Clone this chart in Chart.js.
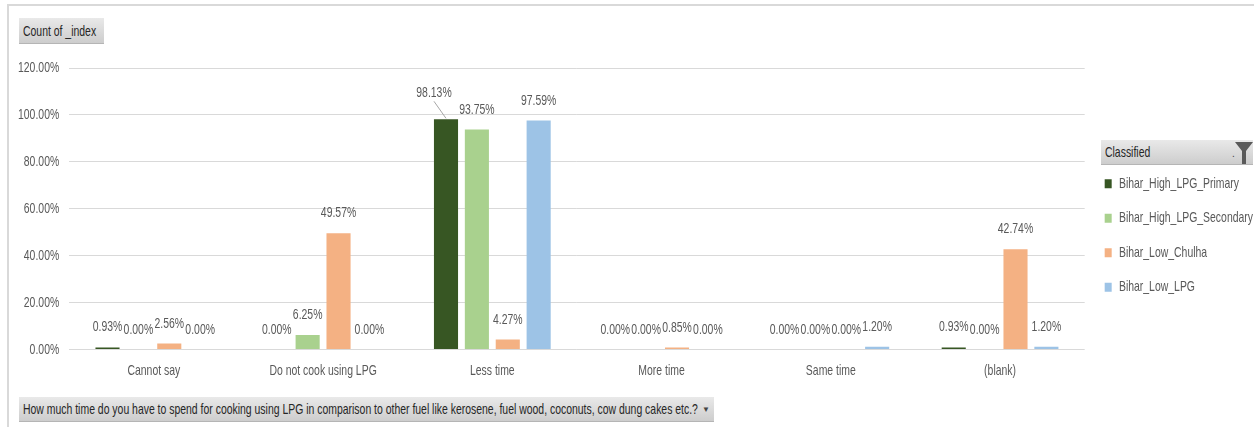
<!DOCTYPE html>
<html>
<head>
<meta charset="utf-8">
<script src="https://cdn.jsdelivr.net/npm/chart.js@4"></script>
<style>
  html, body { margin: 0; padding: 0; background: #fff; }
  #wrap { position: relative; width: 1254px; height: 427px; overflow: hidden; }
  #frame { position: absolute; left: 7px; top: 4px; width: 1260px; height: 440px; border-left: 2px solid #d9d9d9; border-top: 2px solid #d9d9d9; }
  canvas { position: absolute; left: 0; top: 0; }
  .btn { position: absolute; font-family: "Liberation Sans", Arial, sans-serif; font-size: 14.5px; color: #262626;
         background: linear-gradient(#e9e9e9, #cdcdcd); border-bottom: 1px solid #b5b5b5; box-sizing: border-box; white-space: nowrap; }
  .btn .t { display: inline-block; transform: scaleX(0.72); transform-origin: 0 50%; }
</style>
</head>
<body>
<div id="wrap">
  <div id="frame"></div>
  <div class="btn" style="left:19px;top:18px;width:85px;height:26px;line-height:26px;padding-left:4px;"><span class="t">Count of _index</span></div>
  <div class="btn" style="left:1101px;top:140px;width:152px;height:25px;line-height:25px;padding-left:4px;"><span class="t">Classified</span>
    <span style="position:absolute;left:131px;top:1px;font-size:10px;color:#444;">.</span>
    <svg style="position:absolute;left:134px;top:2px;" width="18" height="22" viewBox="0 0 18 22"><path d="M0 0 H18 L11 9 V22 H7 V9 Z" fill="#5a5a5a"/></svg>
  </div>
  <div class="btn" style="left:19px;top:397px;width:695px;height:25px;line-height:25px;padding-left:4px;"><span class="t">How much time do you have to spend for cooking using LPG in comparison to other fuel like kerosene, fuel wood, coconuts, cow dung cakes etc.?</span>
    <span style="position:absolute;left:683px;top:0;font-size:8px;color:#444;">&#9660;</span></div>
  <canvas id="c" width="1254" height="427"></canvas>
</div>
<script>
const categories = ['Cannot say', 'Do not cook using LPG', 'Less time', 'More time', 'Same time', '(blank)'];
const seriesNames = ['Bihar_High_LPG_Primary', 'Bihar_High_LPG_Secondary', 'Bihar_Low_Chulha', 'Bihar_Low_LPG'];
const highPrimary   = [0.93, 0.00, 98.13, 0.00, 0.00, 0.93];
const highSecondary = [0.00, 6.25, 93.75, 0.00, 0.00, 0.00];
const lowChulha     = [2.56, 49.57, 4.27, 0.85, 0.00, 42.74];
const lowLPG        = [0.00, 0.00, 97.59, 0.00, 1.20, 1.20];
const yTicks = [0, 20, 40, 60, 80, 100, 120];

const colors = ['#375623', '#a9d18e', '#f4b183', '#9dc3e6'];
const FONT = '"Liberation Sans", Arial, sans-serif';
const FSIZE = 14.5;
const TXT = '#595959';
const SQUEEZE = 0.72;

// condensed text rendering (reference uses a narrow font)
const canvas = document.getElementById('c');
const ctx2d = canvas.getContext('2d');
const origFill = ctx2d.fillText.bind(ctx2d);
const origMeasure = ctx2d.measureText.bind(ctx2d);
ctx2d.fillText = function (t, x, y) {
  this.save(); this.translate(x, y); this.scale(SQUEEZE, 1); origFill(t, 0, 0); this.restore();
};
ctx2d.measureText = function (t) {
  const m = origMeasure(t);
  return {
    width: m.width * SQUEEZE,
    actualBoundingBoxAscent: m.actualBoundingBoxAscent,
    actualBoundingBoxDescent: m.actualBoundingBoxDescent,
    actualBoundingBoxLeft: m.actualBoundingBoxLeft * SQUEEZE,
    actualBoundingBoxRight: m.actualBoundingBoxRight * SQUEEZE,
    fontBoundingBoxAscent: m.fontBoundingBoxAscent,
    fontBoundingBoxDescent: m.fontBoundingBoxDescent
  };
};

const labelPlugin = {
  id: 'barLabels',
  afterDatasetsDraw(chart) {
    const ctx = chart.ctx;
    ctx.save();
    ctx.font = FSIZE + 'px ' + FONT;
    ctx.fillStyle = TXT;
    ctx.textAlign = 'center';
    ctx.textBaseline = 'middle';
    const n = chart.data.datasets.length;
    const nCat = chart.data.labels.length;
    for (let i = 0; i < nCat; i++) {
      const boxes = [];
      for (let d = 0; d < n; d++) {
        const el = chart.getDatasetMeta(d).data[i];
        const v = chart.data.datasets[d].data[i];
        const text = v.toFixed(2) + '%';
        const w = ctx.measureText(text).width;
        boxes.push({x: el.x, y: el.y - 20, w, h: 13, text, v, top: el.y});
      }
      for (let d = 0; d < n; d++) {
        const b = boxes[d];
        const nb = boxes[d + 1];
        let x = b.x, y = b.y, leader = false;
        if (nb && b.v > 0 && nb.v > 0) {
          const hOver = (b.w + nb.w) / 2 - Math.abs(nb.x - b.x);
          const vOver = b.h - Math.abs(nb.y - b.y);
          if (hOver > 2 && vOver > 0) {
            x = b.x - 12; y = b.y - 6; leader = true;
          }
        }
        ctx.fillText(b.text, x, y);
        if (leader) {
          ctx.strokeStyle = '#a6a6a6';
          ctx.lineWidth = 1;
          ctx.beginPath();
          ctx.moveTo(x, y + 8);
          ctx.lineTo(b.x, b.top - 1);
          ctx.stroke();
        }
      }
    }
    ctx.restore();
  }
};

const datasets = [highPrimary, highSecondary, lowChulha, lowLPG].map((arr, k) => ({
  label: seriesNames[k],
  data: arr,
  backgroundColor: colors[k],
  borderWidth: 0,
  categoryPercentage: 0.73,
  barPercentage: 0.78
}));

new Chart(canvas, {
  type: 'bar',
  data: { labels: categories, datasets },
  plugins: [labelPlugin],
  options: {
    responsive: false,
    animation: false,
    layout: { padding: { left: 8, right: -9, top: 68, bottom: 34 } },
    plugins: {
      tooltip: { enabled: false },
      legend: {
        position: 'right',
        align: 'start',
        title: { display: true, text: ' ', padding: { top: 73, bottom: 0 }, font: { size: 13, family: FONT } },
        labels: {
          boxWidth: 7, boxHeight: 9, padding: 20,
          color: TXT,
          font: { size: FSIZE, family: FONT }
        }
      }
    },
    scales: {
      x: {
        grid: { display: false, drawTicks: false },
        border: { display: false },
        ticks: { color: TXT, font: { size: FSIZE, family: FONT }, padding: 13, maxRotation: 0, autoSkip: false }
      },
      y: {
        min: 0, max: 120,
        afterBuildTicks(scale) { scale.ticks = yTicks.map(v => ({ value: v })); },
        grid: { color: '#d9d9d9', lineWidth: 1, drawTicks: false },
        border: { display: false },
        ticks: { color: TXT, font: { size: FSIZE, family: FONT }, padding: 10, callback: v => Number(v).toFixed(2) + '%' }
      }
    }
  }
});
</script>
</body>
</html>
